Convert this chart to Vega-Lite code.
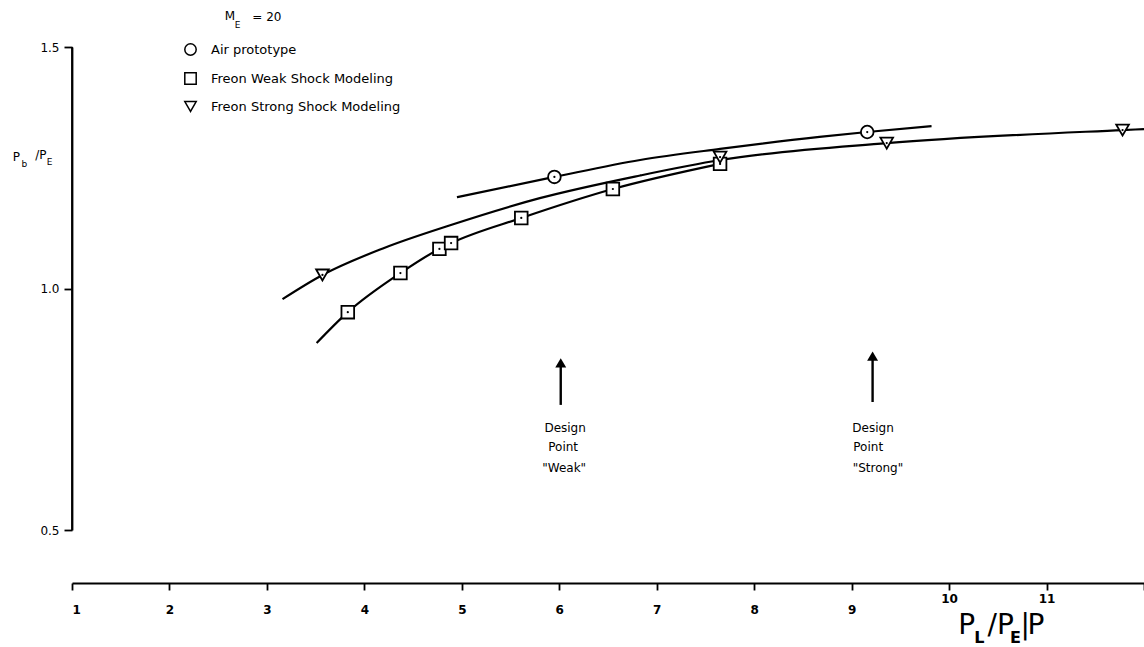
{
  "$schema": "https://vega.github.io/schema/vega-lite/v6.json",
  "width": 1072,
  "height": 483,
  "autosize": "none",
  "padding": {"left": 72, "top": 47, "right": 0, "bottom": 117},
  "background": "white",
  "config": {
    "view": {"stroke": null},
    "font": "DejaVu Sans",
    "axis": {"labelColor": "black", "tickColor": "black", "domainColor": "black", "labelFont": "DejaVu Sans"}
  },
  "datasets": {
    "curves": [
      {"series": "Air prototype", "x": 4.95, "y": 1.189},
      {"series": "Air prototype", "x": 5.95, "y": 1.231},
      {"series": "Air prototype", "x": 6.83, "y": 1.266},
      {"series": "Air prototype", "x": 7.65, "y": 1.289},
      {"series": "Air prototype", "x": 8.67, "y": 1.314},
      {"series": "Air prototype", "x": 9.16, "y": 1.324},
      {"series": "Air prototype", "x": 9.82, "y": 1.336},
      {"series": "Freon Weak Shock Modeling", "x": 3.51, "y": 0.887},
      {"series": "Freon Weak Shock Modeling", "x": 3.83, "y": 0.951},
      {"series": "Freon Weak Shock Modeling", "x": 4.37, "y": 1.032},
      {"series": "Freon Weak Shock Modeling", "x": 4.77, "y": 1.082},
      {"series": "Freon Weak Shock Modeling", "x": 4.89, "y": 1.094},
      {"series": "Freon Weak Shock Modeling", "x": 5.61, "y": 1.146},
      {"series": "Freon Weak Shock Modeling", "x": 6.55, "y": 1.206},
      {"series": "Freon Weak Shock Modeling", "x": 7.65, "y": 1.258},
      {"series": "Freon Strong Shock Modeling", "x": 3.16, "y": 0.978},
      {"series": "Freon Strong Shock Modeling", "x": 3.57, "y": 1.028},
      {"series": "Freon Strong Shock Modeling", "x": 4.19, "y": 1.083},
      {"series": "Freon Strong Shock Modeling", "x": 4.88, "y": 1.131},
      {"series": "Freon Strong Shock Modeling", "x": 5.8, "y": 1.187},
      {"series": "Freon Strong Shock Modeling", "x": 6.83, "y": 1.234},
      {"series": "Freon Strong Shock Modeling", "x": 7.65, "y": 1.266},
      {"series": "Freon Strong Shock Modeling", "x": 9.36, "y": 1.301},
      {"series": "Freon Strong Shock Modeling", "x": 11.78, "y": 1.328},
      {"series": "Freon Strong Shock Modeling", "x": 12.0, "y": 1.33}
    ],
    "markers": [
      {"series": "Air prototype", "x": 5.95, "y": 1.231},
      {"series": "Air prototype", "x": 9.16, "y": 1.324},
      {"series": "Freon Weak Shock Modeling", "x": 3.83, "y": 0.951},
      {"series": "Freon Weak Shock Modeling", "x": 4.37, "y": 1.032},
      {"series": "Freon Weak Shock Modeling", "x": 4.77, "y": 1.082},
      {"series": "Freon Weak Shock Modeling", "x": 4.89, "y": 1.094},
      {"series": "Freon Weak Shock Modeling", "x": 5.61, "y": 1.146},
      {"series": "Freon Weak Shock Modeling", "x": 6.55, "y": 1.206},
      {"series": "Freon Weak Shock Modeling", "x": 7.65, "y": 1.258},
      {"series": "Freon Strong Shock Modeling", "x": 3.57, "y": 1.028},
      {"series": "Freon Strong Shock Modeling", "x": 7.65, "y": 1.272},
      {"series": "Freon Strong Shock Modeling", "x": 9.36, "y": 1.301},
      {"series": "Freon Strong Shock Modeling", "x": 11.78, "y": 1.328}
    ],
    "arrows": [
      {"point": "Weak", "x": 6.015, "y": 0.759, "tip": 0.846},
      {"point": "Strong", "x": 9.215, "y": 0.765, "tip": 0.86}
    ],
    "notes": [
      {"x": 6.06, "y": 0.711, "t": "Design"},
      {"x": 6.04, "y": 0.672, "t": "Point"},
      {"x": 6.05, "y": 0.628, "t": "\"Weak\""},
      {"x": 9.22, "y": 0.711, "t": "Design"},
      {"x": 9.17, "y": 0.672, "t": "Point"},
      {"x": 9.27, "y": 0.628, "t": "\"Strong\""},
      {"x": 2.62, "y": 1.565, "t": "M"},
      {"x": 3.0, "y": 1.562, "t": "= 20"},
      {"x": 0.43, "y": 1.272, "t": "P"},
      {"x": 0.68, "y": 1.276, "t": "/P"}
    ],
    "notesSub": [
      {"x": 2.70, "y": 1.545, "t": "E"},
      {"x": 0.51, "y": 1.258, "t": "b"},
      {"x": 0.77, "y": 1.262, "t": "E"}
    ],
    "xTitle": [
      {"x": 10.18, "y": 0.302, "t": "P"},
      {"x": 10.53, "y": 0.302, "t": "/P"},
      {"x": 10.78, "y": 0.302, "t": "|"},
      {"x": 10.89, "y": 0.302, "t": "P"}
    ],
    "xTitleSub": [
      {"x": 10.31, "y": 0.276, "t": "L"},
      {"x": 10.68, "y": 0.276, "t": "E"}
    ],
    "yAxisLine": [{"x": 1, "y": 0.5}]
  },
  "layer": [
    {
      "data": {"name": "curves"},
      "mark": {"type": "line", "interpolate": "monotone", "stroke": "black", "strokeWidth": 2.2},
      "encoding": {
        "x": {
          "field": "x", "type": "quantitative",
          "scale": {"domain": [1, 12], "nice": false, "zero": false},
          "axis": {
            "values": [1, 2, 3, 4, 5, 6, 7, 8, 9, 10, 11, 12],
            "format": "d",
            "title": null, "offset": 53, "grid": false,
            "domainWidth": 1.8, "tickWidth": 1.8, "tickSize": 7,
            "labelFontSize": 12, "labelFontWeight": "bold",
            "labelPadding": {"condition": {"test": "datum.value >= 10", "value": 3}, "value": 14},
            "labelExpr": "datum.value == 12 ? '' : format(datum.value, 'd')"
          }
        },
        "y": {
          "field": "y", "type": "quantitative",
          "scale": {"domain": [0.5, 1.5], "nice": false, "zero": false},
          "axis": {
            "values": [0.5, 1, 1.5],
            "labelExpr": "format(datum.value, '.1f')",
            "title": null, "grid": false,
            "domainWidth": 1.8, "tickWidth": 1.8, "tickSize": 8,
            "labelFontSize": 12, "labelPadding": 5
          }
        },
        "detail": {"field": "series"}
      }
    },
    {
      "data": {"name": "markers"},
      "mark": {"type": "point", "filled": true, "fill": "white", "stroke": "black", "strokeWidth": 1.8, "opacity": 1, "size": 160},
      "encoding": {
        "x": {"field": "x", "type": "quantitative"},
        "y": {"field": "y", "type": "quantitative"},
        "shape": {
          "field": "series", "type": "nominal",
          "scale": {
            "domain": ["Air prototype", "Freon Weak Shock Modeling", "Freon Strong Shock Modeling"],
            "range": ["circle", "square", "triangle-down"]
          },
          "legend": {
            "title": null, "orient": "none", "legendX": 112, "legendY": -4,
            "labelFontSize": 13, "labelColor": "black", "labelFont": "DejaVu Sans",
            "labelLimit": 400,
            "labelOffset": 14, "rowPadding": 10, "symbolSize": 130,
            "encode": {
              "symbols": {
                "update": {
                  "shape": {"signal": "datum.value === 'Freon Strong Shock Modeling' ? 'triangle-up' : (datum.value === 'Freon Weak Shock Modeling' ? 'square' : 'circle')"},
                  "fill": {"value": "white"},
                  "stroke": {"value": "black"},
                  "strokeWidth": {"value": 1.6},
                  "opacity": {"value": 1}
                }
              }
            }
          }
        }
      }
    },
    {
      "data": {"name": "markers"},
      "mark": {"type": "point", "filled": true, "color": "black", "size": 5, "opacity": 1},
      "encoding": {
        "x": {"field": "x", "type": "quantitative"},
        "y": {"field": "y", "type": "quantitative"}
      }
    },
    {
      "data": {"name": "yAxisLine"},
      "mark": {"type": "rule", "stroke": "black", "strokeWidth": 1.8},
      "encoding": {
        "x": {"field": "x", "type": "quantitative"},
        "y": {"field": "y", "type": "quantitative"},
        "y2": {"datum": 1.5}
      }
    },
    {
      "data": {"name": "arrows"},
      "mark": {"type": "rule", "stroke": "black", "strokeWidth": 2.4},
      "encoding": {
        "x": {"field": "x", "type": "quantitative"},
        "y": {"field": "y", "type": "quantitative"},
        "y2": {"field": "tip"}
      }
    },
    {
      "data": {"name": "arrows"},
      "mark": {"type": "point", "shape": "triangle-up", "filled": true, "color": "black", "size": 120, "opacity": 1},
      "encoding": {
        "x": {"field": "x", "type": "quantitative"},
        "y": {"field": "tip", "type": "quantitative"}
      }
    },
    {
      "data": {"name": "notes"},
      "mark": {"type": "text", "fontSize": 12, "font": "DejaVu Sans", "color": "black", "align": "center", "baseline": "middle"},
      "encoding": {
        "x": {"field": "x", "type": "quantitative"},
        "y": {"field": "y", "type": "quantitative"},
        "text": {"field": "t"}
      }
    },
    {
      "data": {"name": "notesSub"},
      "mark": {"type": "text", "fontSize": 9, "font": "DejaVu Sans", "color": "black", "align": "center", "baseline": "middle"},
      "encoding": {
        "x": {"field": "x", "type": "quantitative"},
        "y": {"field": "y", "type": "quantitative"},
        "text": {"field": "t"}
      }
    },
    {
      "data": {"name": "xTitle"},
      "mark": {"type": "text", "fontSize": 28, "font": "DejaVu Sans", "color": "black", "align": "center", "baseline": "middle"},
      "encoding": {
        "x": {"field": "x", "type": "quantitative"},
        "y": {"field": "y", "type": "quantitative"},
        "text": {"field": "t"}
      }
    },
    {
      "data": {"name": "xTitleSub"},
      "mark": {"type": "text", "fontSize": 16, "fontWeight": "bold", "font": "DejaVu Sans", "color": "black", "align": "center", "baseline": "middle"},
      "encoding": {
        "x": {"field": "x", "type": "quantitative"},
        "y": {"field": "y", "type": "quantitative"},
        "text": {"field": "t"}
      }
    }
  ]
}
